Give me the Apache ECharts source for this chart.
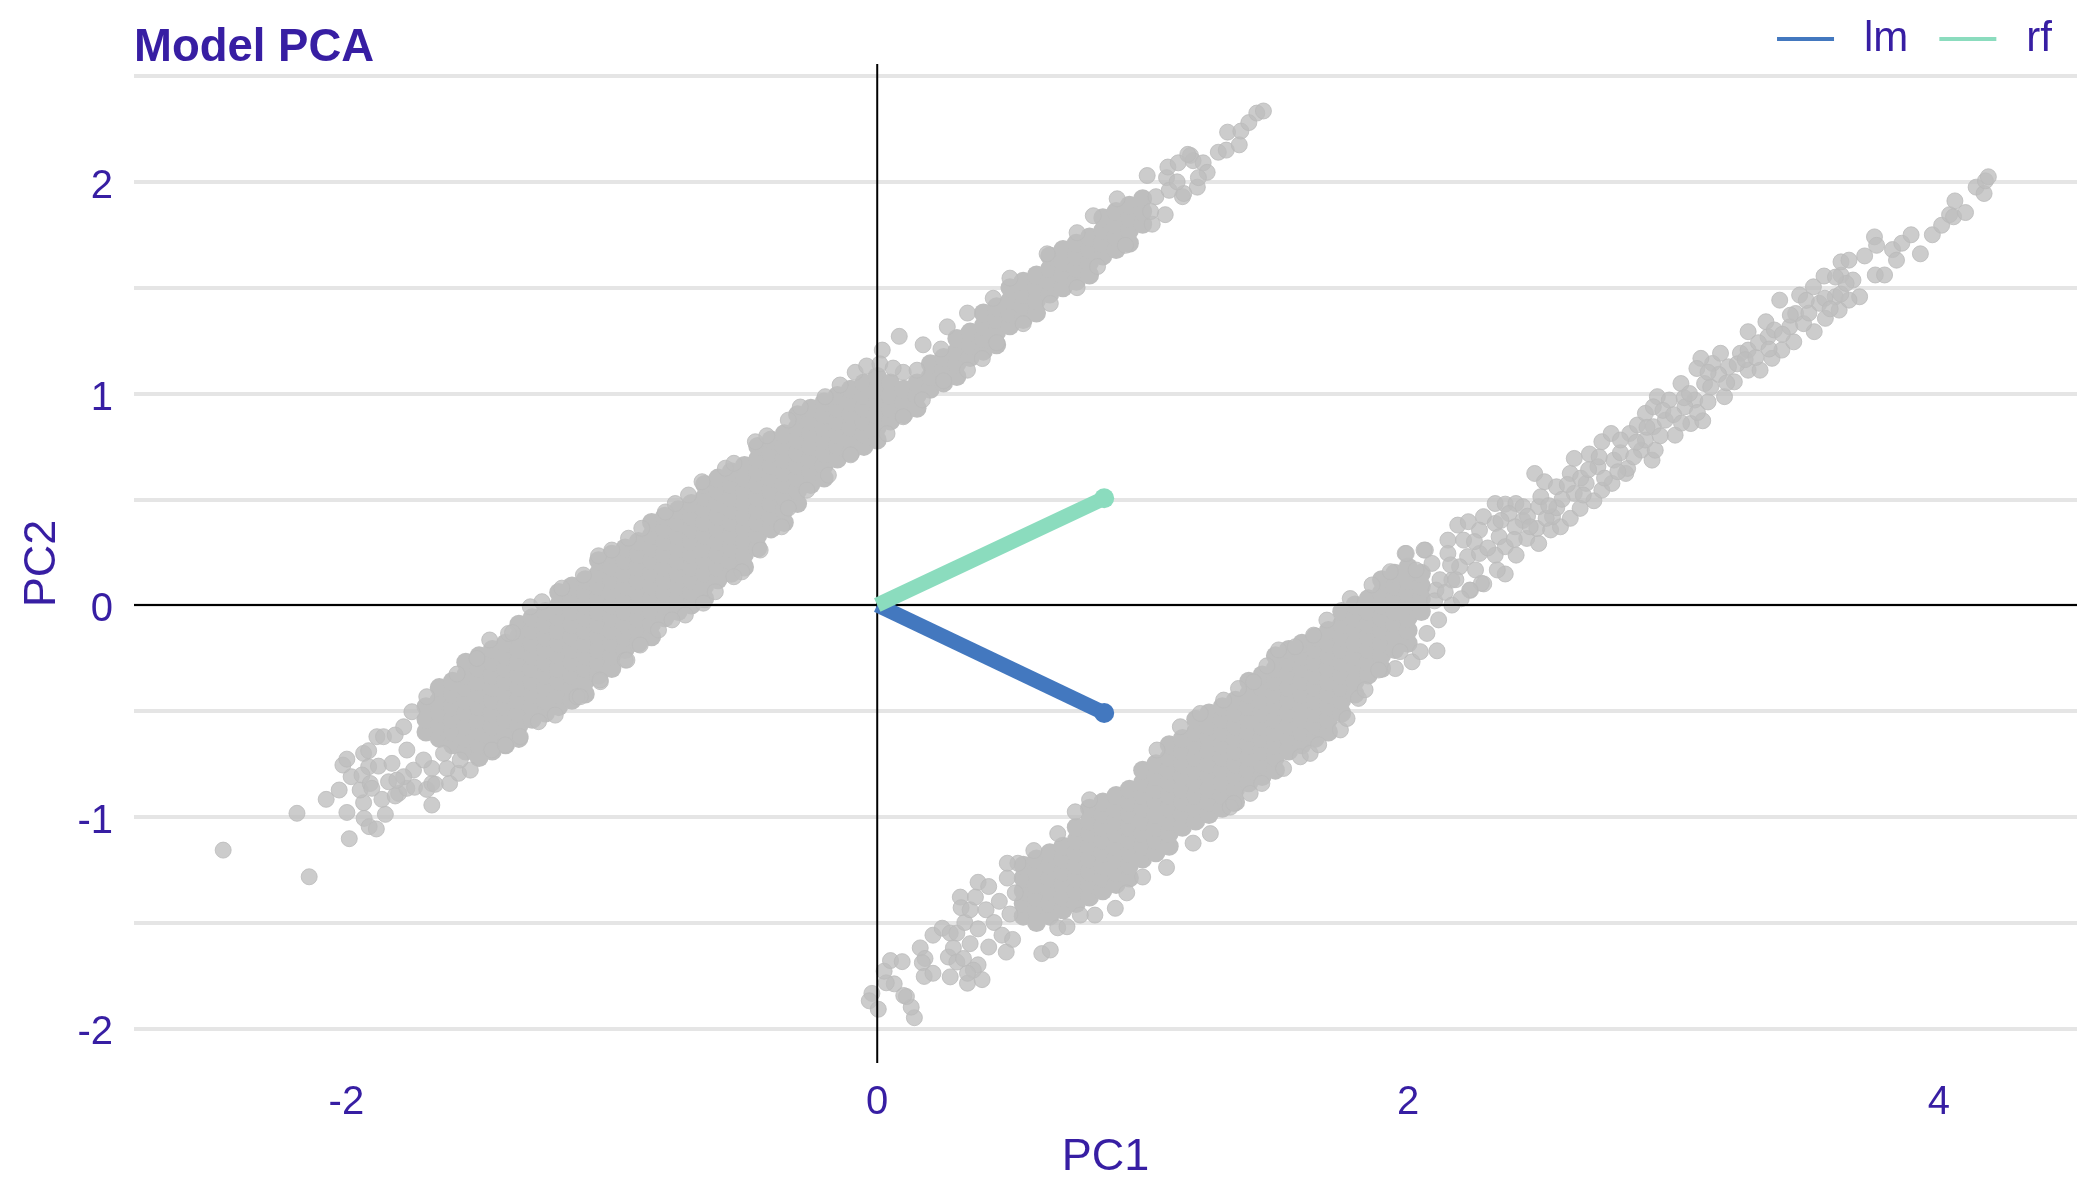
<!DOCTYPE html>
<html>
<head>
<meta charset="utf-8">
<title>Model PCA</title>
<script src="https://cdn.jsdelivr.net/npm/echarts@6/dist/echarts.min.js"></script>
<style>
  html, body { margin: 0; padding: 0; background: #fff; }
  #chart { width: 2100px; height: 1200px; }
</style>
</head>
<body>
<div id="chart"></div>
<script>
const xLabels = [-2, 0, 2, 4];
const yLabels = [-2, -1, 0, 1, 2];
const yGrid = [-2, -1.5, -1, -0.5, 0, 0.5, 1, 1.5, 2, 2.5];

// arrows
const lmArrow = [[0, 0], [0.855, -0.51]];
const rfArrow = [[0, 0], [0.855, 0.505]];

// the solid middle of each cloud can't be split into single points,
// so these are estimates per column: [x, y, y, y...]
const upperCore = [
	[-1.70, -.60, -.54, -.48],
	[-1.65, -.63, -.57, -.51, -.45, -.39],
	[-1.60, -.66, -.60, -.54, -.48, -.42, -.36],
	[-1.55, -.69, -.63, -.57, -.51, -.45, -.39, -.33, -.27],
	[-1.50, -.72, -.66, -.60, -.54, -.48, -.42, -.36, -.30, -.24],
	[-1.45, -.69, -.63, -.57, -.51, -.45, -.39, -.33, -.27, -.21],
	[-1.40, -.66, -.60, -.54, -.48, -.42, -.36, -.30, -.24, -.18],
	[-1.35, -.63, -.57, -.51, -.45, -.39, -.33, -.27, -.21, -.15, -.09],
	[-1.30, -.54, -.48, -.42, -.36, -.30, -.24, -.18, -.12, -.06],
	[-1.25, -.51, -.45, -.39, -.33, -.27, -.21, -.15, -.09, -.03],
	[-1.20, -.48, -.42, -.36, -.30, -.24, -.18, -.12, -.06, 0, .06],
	[-1.15, -.45, -.39, -.33, -.27, -.21, -.15, -.09, -.03, .03, .09],
	[-1.10, -.42, -.36, -.30, -.24, -.18, -.12, -.06, 0, .06, .12],
	[-1.05, -.33, -.27, -.21, -.15, -.09, -.03, .03, .09, .15, .21],
	[-1.00, -.30, -.24, -.18, -.12, -.06, 0, .06, .12, .18, .24],
	[-.95, -.21, -.15, -.09, -.03, .03, .09, .15, .21, .27],
	[-.90, -.18, -.12, -.06, 0, .06, .12, .18, .24, .30],
	[-.85, -.15, -.09, -.03, .03, .09, .15, .21, .27, .33, .39],
	[-.80, -.06, 0, .06, .12, .18, .24, .30, .36, .42],
	[-.75, -.03, .03, .09, .15, .21, .27, .33, .39, .45],
	[-.70, 0, .06, .12, .18, .24, .30, .36, .42, .48],
	[-.65, .03, .09, .15, .21, .27, .33, .39, .45, .51, .57],
	[-.60, .12, .18, .24, .30, .36, .42, .48, .54, .60],
	[-.55, .15, .21, .27, .33, .39, .45, .51, .57, .63],
	[-.50, .18, .24, .30, .36, .42, .48, .54, .60, .66],
	[-.45, .27, .33, .39, .45, .51, .57, .63, .69, .75],
	[-.40, .36, .42, .48, .54, .60, .66, .72, .78],
	[-.35, .39, .45, .51, .57, .63, .69, .75, .81],
	[-.30, .48, .54, .60, .66, .72, .78, .84, .90],
	[-.25, .57, .63, .69, .75, .81, .87, .93],
	[-.20, .60, .66, .72, .78, .84, .90, .96],
	[-.15, .69, .75, .81, .87, .93, .99],
	[-.10, .72, .78, .84, .90, .96, 1.02],
	[-.05, .75, .81, .87, .93, .99, 1.05],
	[0, .78, .84, .90, .96, 1.02, 1.08],
	[.05, .87, .93, .99, 1.05],
	[.10, .90, .96, 1.02],
	[.15, .93, .99, 1.05],
	[.20, 1.02, 1.08, 1.14],
	[.25, 1.05, 1.11, 1.17],
	[.30, 1.08, 1.14, 1.20, 1.26],
	[.35, 1.17, 1.23, 1.29],
	[.40, 1.20, 1.26, 1.32, 1.38],
	[.45, 1.23, 1.29, 1.35, 1.41],
	[.50, 1.32, 1.38, 1.44, 1.50],
	[.55, 1.35, 1.41, 1.47, 1.53],
	[.60, 1.38, 1.44, 1.50, 1.56],
	[.65, 1.47, 1.53, 1.59, 1.65],
	[.70, 1.50, 1.56, 1.62, 1.68],
	[.75, 1.53, 1.59, 1.65, 1.71],
	[.80, 1.56, 1.62, 1.68, 1.74],
	[.85, 1.65, 1.71, 1.77, 1.83],
	[.90, 1.68, 1.74, 1.80, 1.86],
	[.95, 1.71, 1.77, 1.83, 1.89],
	[1.00, 1.80, 1.86, 1.92],
];
const lowerCore = [
	[.55, -1.47, -1.41, -1.35, -1.29, -1.23],
	[.60, -1.50, -1.44, -1.38, -1.32, -1.26, -1.20],
	[.65, -1.47, -1.41, -1.35, -1.29, -1.23, -1.17],
	[.70, -1.44, -1.38, -1.32, -1.26, -1.20, -1.14],
	[.75, -1.41, -1.35, -1.29, -1.23, -1.17, -1.11, -1.05],
	[.80, -1.38, -1.32, -1.26, -1.20, -1.14, -1.08, -1.02, -.96],
	[.85, -1.35, -1.29, -1.23, -1.17, -1.11, -1.05, -.99, -.93],
	[.90, -1.32, -1.26, -1.20, -1.14, -1.08, -1.02, -.96, -.90],
	[.95, -1.29, -1.23, -1.17, -1.11, -1.05, -.99, -.93, -.87],
	[1.00, -1.20, -1.14, -1.08, -1.02, -.96, -.90, -.84, -.78],
	[1.05, -1.17, -1.11, -1.05, -.99, -.93, -.87, -.81, -.75],
	[1.10, -1.14, -1.08, -1.02, -.96, -.90, -.84, -.78, -.72, -.66],
	[1.15, -1.05, -.99, -.93, -.87, -.81, -.75, -.69, -.63],
	[1.20, -1.02, -.96, -.90, -.84, -.78, -.72, -.66, -.60, -.54],
	[1.25, -.99, -.93, -.87, -.81, -.75, -.69, -.63, -.57, -.51],
	[1.30, -.96, -.90, -.84, -.78, -.72, -.66, -.60, -.54, -.48],
	[1.35, -.93, -.87, -.81, -.75, -.69, -.63, -.57, -.51, -.45],
	[1.40, -.84, -.78, -.72, -.66, -.60, -.54, -.48, -.42, -.36],
	[1.45, -.81, -.75, -.69, -.63, -.57, -.51, -.45, -.39, -.33],
	[1.50, -.78, -.72, -.66, -.60, -.54, -.48, -.42, -.36, -.30, -.24],
	[1.55, -.69, -.63, -.57, -.51, -.45, -.39, -.33, -.27, -.21],
	[1.60, -.66, -.60, -.54, -.48, -.42, -.36, -.30, -.24, -.18],
	[1.65, -.63, -.57, -.51, -.45, -.39, -.33, -.27, -.21, -.15],
	[1.70, -.60, -.54, -.48, -.42, -.36, -.30, -.24, -.18, -.12],
	[1.75, -.51, -.45, -.39, -.33, -.27, -.21, -.15, -.09, -.03],
	[1.80, -.42, -.36, -.30, -.24, -.18, -.12, -.06, 0],
	[1.85, -.33, -.27, -.21, -.15, -.09, -.03, .03],
	[1.90, -.30, -.24, -.18, -.12, -.06, 0, .06, .12],
	[1.95, -.21, -.15, -.09, -.03, .03, .09, .15],
	[2.00, -.18, -.12, -.06, 0, .06, .12, .18],
	[2.05, -.03, .03, .09, .15],
];

// points that can be seen one by one
const upperEdge = [
	[-2.464, -1.158], [-2.14, -1.284], [-2.186, -.984], [-1.989, -1.104], [-1.998, -.98], [-2.076, -.918],
	[-2.027, -.874], [-1.935, -.934], [-1.933, -1.008], [-1.914, -1.047], [-1.887, -1.058], [-1.853, -.989],
	[-1.866, -.918], [-1.948, -.874], [-1.982, -.811], [-2.013, -.756], [-1.998, -.728], [-1.935, -.701],
	[-1.916, -.688], [-1.916, -.764], [-1.879, -.761], [-1.828, -.748], [-1.885, -.622], [-1.86, -.622],
	[-1.816, -.614], [-1.941, -.803], [-1.91, -.843], [-1.904, -.866], [-1.841, -.835], [-1.803, -.89],
	[-1.816, -.902], [-1.772, -.866], [-1.743, -.861], [-1.697, -.871], [-1.678, -.945], [-1.678, -.843],
	[-1.665, -.847], [-1.611, -.843], [-1.678, -.772], [-1.621, -.772], [-1.577, -.795], [-1.533, -.78],
	[-1.772, -.685], [-1.747, -.78], [-1.709, -.732], [-1.784, -.811], [-1.81, -.827], [-1.784, -.575],
	[-1.753, -.504], [-1.697, -.433], [-1.583, -.326], [-1.508, -.252], [-1.46, -.165], [-1.389, -.134],
	[-1.634, -.701], [-1.571, -.732], [-1.452, -.685], [-1.401, -.661], [-1.345, -.622], [-1.276, -.551],
	[-1.213, -.52], [-1.131, -.433], [-1.043, -.362], [-.949, -.26], [-1.374, -.13], [-1.307, -.008],
	[-1.263, .016], [-1.188, .08], [-1.107, .142], [-1.05, .233], [-1, .26], [-.937, .316], [-.887, .363],
	[-.798, .44], [-.761, .48], [-.711, .52], [-.66, .583], [-.572, .647], [-.54, .67], [-.459, .772],
	[-.416, .80], [-.335, .874], [-.29, .936], [-.196, .985], [-.14, 1.04], [-.184, .614], [-.265, .543],
	[-.335, .458], [-.36, .37], [-.441, .26], [-.51, .157], [-.54, .134], [-.61, .063], [-.655, .009],
	[-.723, -.047], [-.773, -.07], [-.824, -.118], [-.893, -.189], [-.943, -.26], [-1.044, -.354],
	[-1.119, -.433], [-.10, .71], [-.083, 1.10], [-.04, 1.13], [.019, 1.205], [.01, 1.14], [.083, 1.27],
	[.098, 1.10], [.06, 1.12], [.173, 1.23], [.15, 1.11], [.264, 1.315], [.24, 1.21], [.34, 1.38], [.437, 1.45],
	[.50, 1.545], [.64, 1.66], [.753, 1.76], [.814, 1.84], [.904, 1.92], [.037, .81], [.098, .89], [.17, .97],
	[.25, 1.06], [.34, 1.11], [.396, 1.165], [.45, 1.24], [.55, 1.33], [.652, 1.425], [.753, 1.50], [.83, 1.60],
	[.935, 1.70], [1.036, 1.80], [1.085, 1.845], [1.15, 1.93], [1.206, 1.975], [1.017, 2.03], [1.09, 2.02],
	[1.095, 2.07], [1.134, 2.09], [1.18, 2.125], [1.19, 2.10], [1.228, 2.09], [1.243, 2.045], [1.21, 2.02],
	[1.155, 1.945], [1.17, 2.13], [1.285, 2.14], [1.315, 2.15], [1.364, 2.175], [1.32, 2.235], [1.37, 2.24],
	[1.40, 2.28], [1.43, 2.325], [1.455, 2.335], [1.05, 1.93], [1.10, 1.96], [1.13, 2.0], [1.03, 1.86],
];
const lowerEdge = [
	[-.02, -1.835], [-.03, -1.87], [.004, -1.91], [.14, -1.95], [.128, -1.90], [.11, -1.85], [.10, -1.845],
	[.064, -1.79], [.034, -1.785], [.026, -1.73], [.05, -1.68], [.094, -1.685], [.162, -1.62], [.18, -1.67],
	[.17, -1.69], [.177, -1.755], [.21, -1.74], [.21, -1.56], [.245, -1.527], [.275, -1.55], [.268, -1.663],
	[.287, -1.62], [.275, -1.757], [.30, -1.687], [.34, -1.787], [.395, -1.77], [.38, -1.70], [.362, -1.725],
	[.34, -1.74], [.325, -1.67], [.313, -1.38], [.316, -1.43], [.38, -1.31], [.30, -1.55], [.35, -1.60],
	[.42, -1.616], [.486, -1.64], [.62, -1.647], [.652, -1.63], [.68, -1.525], [.715, -1.52], [.897, -1.433],
	[.94, -1.36], [.82, -1.465], [.765, -1.465], [.746, -.977], [.33, -1.50], [.35, -1.44], [.38, -1.53],
	[.37, -1.38], [.41, -1.44], [.42, -1.33], [.44, -1.50], [.46, -1.40], [.47, -1.56], [.49, -1.29],
	[.50, -1.46], [.51, -1.58], [.52, -1.36], [.53, -1.22], [.59, -1.16], [.68, -1.08], [.80, -.92], [.49, -1.22],
	[1.0, -1.285], [1.09, -1.24], [1.19, -1.125], [1.255, -1.08], [1.33, -.955], [1.054, -.685], [1.142, -.575],
	[1.217, -.512], [1.305, -.449], [1.361, -.394], [1.418, -.363], [1.468, -.287], [1.512, -.212], [1.575, -.197],
	[1.644, -.142], [1.694, -.071], [1.782, .031], [1.864, .095], [1.933, .158], [1.989, .244], [2.065, .26],
	[1.343, -.937], [1.405, -.89], [1.449, -.843], [1.531, -.772], [1.594, -.717], [1.631, -.701], [1.663, -.66],
	[1.745, -.59], [1.77, -.536], [1.813, -.441], [1.838, -.40], [1.889, -.307], [1.952, -.30], [2.015, -.268],
	[2.046, -.22], [2.109, -.216], [1.97, -.22], [2.071, -.134], [2.115, -.07], [2.165, 0], [2.235, .07],
	[2.285, .10], [1.993, .244], [2.06, .26], [2.15, .307], [2.187, .378], [2.227, .394], [2.284, .418],
	[2.328, .48], [2.366, .477], [2.406, .48], [2.433, .465], [2.433, .40], [2.38, .433], [2.328, .386],
	[2.269, .354], [2.209, .307], [2.15, .244], [2.09, .197], [2.03, .166], [2.224, .229], [2.269, .244],
	[2.343, .323], [2.403, .37], [2.366, .276], [2.407, .236], [2.328, .236], [2.366, .147], [2.336, .166],
	[2.276, .103], [2.232, .071], [2.165, .118], [2.105, .071], [2.254, .166], [2.194, .181], [2.447, .315],
	[2.492, .291], [2.485, .362], [2.537, .355], [2.574, .37], [2.611, .41], [2.544, .418], [2.492, .465],
	[2.50, .512], [2.477, .622], [2.514, .583], [2.559, .559], [2.611, .622], [2.626, .693], [2.683, .714],
	[2.648, .457], [2.70, .493], [2.73, .543], [2.626, .528], [2.671, .575], [2.715, .654], [2.768, .575],
	[2.82, .622], [2.827, .646], [2.775, .685], [2.73, .772], [2.765, .811], [2.835, .811], [2.864, .851],
	[2.879, .732], [2.919, .685], [2.931, .732], [2.894, .78], [2.924, .843], [2.894, .906], [2.939, .985],
	[2.984, .969], [2.924, .937], [3.006, .803], [2.969, .874], [3.028, 1.047], [3.065, .858], [3.11, .871],
	[3.08, .969], [3.043, .937], [3.117, 1.047], [3.192, .985], [3.147, 1.142], [3.103, 1.166], [3.177, 1.19],
	[3.088, 1.118], [3.229, 1.055], [3.207, 1.126], [3.252, 1.19], [3.281, 1.292], [3.281, 1.205], [3.281, 1.11],
	[3.326, 1.11], [3.371, 1.166], [3.348, 1.339], [3.356, 1.268], [3.408, 1.205], [3.453, 1.244], [3.40, 1.441],
	[3.475, 1.465], [3.46, 1.378], [3.438, 1.315], [3.53, 1.292], [3.527, 1.504], [3.567, 1.555], [3.572, 1.355],
	[3.624, 1.394], [3.549, 1.426], [3.609, 1.457], [3.676, 1.536], [3.701, 1.457], [3.631, 1.559], [3.631, 1.622],
	[3.661, 1.63], [3.661, 1.441], [3.72, 1.65], [3.757, 1.74], [3.765, 1.70], [3.76, 1.56], [3.795, 1.56],
	[3.825, 1.68], [3.84, 1.63], [3.86, 1.71], [3.895, 1.75], [3.93, 1.66], [3.975, 1.75], [4.01, 1.795],
	[4.04, 1.845], [4.055, 1.835], [4.06, 1.91], [4.10, 1.855], [4.14, 1.975], [4.17, 1.945], [4.175, 2.005],
	[4.186, 2.024],
	[2.25, .30], [2.30, .27], [2.35, .40], [2.40, .31], [2.45, .42], [2.46, .37], [2.52, .41], [2.56, .46],
	[2.58, .50], [2.53, .47], [2.60, .57], [2.65, .60], [2.68, .64], [2.66, .52], [2.74, .60], [2.72, .70],
	[2.79, .63], [2.80, .72], [2.80, .78], [2.85, .70], [2.86, .77], [2.90, .84], [2.95, .80], [2.96, .92],
	[3.0, .90], [3.03, .86], [3.04, .98], [3.06, 1.0], [3.09, .91], [3.13, .96], [3.14, 1.03], [3.17, 1.09],
	[3.20, 1.05], [3.13, 1.10], [3.24, 1.14], [3.27, 1.16], [3.31, 1.17], [3.32, 1.24], [3.36, 1.21], [3.38, 1.30],
	[3.41, 1.28], [3.44, 1.37], [3.49, 1.33], [3.51, 1.38], [3.50, 1.44], [3.57, 1.45], [3.59, 1.40], [3.63, 1.47],
	[3.65, 1.52], [3.61, 1.55], [2.10, .02], [2.12, .12], [2.14, .06], [2.16, .19], [2.18, .12], [2.20, .03],
];

const ink = '#371EA3';
const fontFamily = '"Liberation Sans", Arial, sans-serif';
const xMin = -2.8, xMax = 4.52, yMin = -2.164, yMax = 2.557;

const flatten = table => {
	let out = [];
	table.forEach(row => row.slice(1).forEach(y => out.push([row[0], y])));
	return out;
};

const arrow = (name, color, points) => ({
	name: name,
	type: 'line',
	z: name === 'rf' ? 6 : 5,
	silent: true,
	lineStyle: { color: color, width: 15, cap: 'butt' },
	itemStyle: { color: color },
	data: [
		{ value: points[0], symbol: 'none' },
		{ value: points[1], symbol: 'circle', symbolSize: 20 },
	],
});

const zeroLine = points => ({
	type: 'line',
	z: 4,
	silent: true,
	symbol: 'none',
	lineStyle: { color: '#000', width: 2 },
	data: points,
});

// scatter defaults to opacity 0.8, so it has to be switched off here
const cloudStyle = {
	opacity: 1,
	color: 'rgba(190,190,190,0.78)',
	borderColor: 'rgba(186,186,186,0.8)',
	borderWidth: 1,
};

const chart = echarts.init(document.getElementById('chart'), null, { renderer: 'canvas' });
chart.setOption({
	animation: false,
	backgroundColor: '#fff',
	title: {
		text: 'Model PCA',
		left: 134,
		top: 25,
		padding: 0,
		textStyle: { color: ink, fontFamily: fontFamily, fontSize: 45.5, fontWeight: 'bold' },
	},
	legend: {
		data: ['lm', 'rf'],
		icon: 'rect',
		right: 48,
		top: 18,
		padding: 0,
		itemWidth: 57,
		itemHeight: 4,
		itemGap: 31,
		textStyle: { color: ink, fontFamily: fontFamily, fontSize: 42, padding: [10, 0, 0, 25] },
	},
	grid: { left: 134, right: 23, top: 64, bottom: 137, outerBoundsMode: 'none' },
	xAxis: {
		type: 'value',
		min: xMin,
		max: xMax,
		name: 'PC1',
		nameLocation: 'middle',
		nameGap: 72,
		nameTextStyle: { color: ink, fontFamily: fontFamily, fontSize: 45 },
		axisLine: { show: false },
		axisTick: { show: false },
		splitLine: { show: false },
		axisLabel: { customValues: xLabels, color: ink, fontFamily: fontFamily, fontSize: 40, margin: 20 },
	},
	yAxis: {
		type: 'value',
		min: yMin,
		max: yMax,
		name: 'PC2',
		nameLocation: 'middle',
		nameGap: 69,
		nameTextStyle: { color: ink, fontFamily: fontFamily, fontSize: 45 },
		axisLine: { show: false },
		axisTick: { show: false, customValues: yGrid },
		splitLine: { show: true, lineStyle: { color: '#E5E5E5', width: 4 } },
		axisLabel: { customValues: yLabels, color: ink, fontFamily: fontFamily, fontSize: 40, margin: 21, verticalAlign: 'top', lineHeight: 10 },
	},
	series: [
		{ type: 'scatter', z: 2, silent: true, symbolSize: 19, itemStyle: { color: '#BEBEBE', opacity: 1 }, data: flatten(upperCore).concat(flatten(lowerCore)) },
		{ type: 'scatter', z: 3, silent: true, symbolSize: 16, itemStyle: cloudStyle, data: upperEdge.concat(lowerEdge) },
		zeroLine([[0, yMin], [0, yMax]]),
		zeroLine([[xMin, 0], [xMax, 0]]),
		arrow('lm', '#4378BF', lmArrow),
		arrow('rf', '#8BDCBE', rfArrow),
	],
});
</script>
</body>
</html>
